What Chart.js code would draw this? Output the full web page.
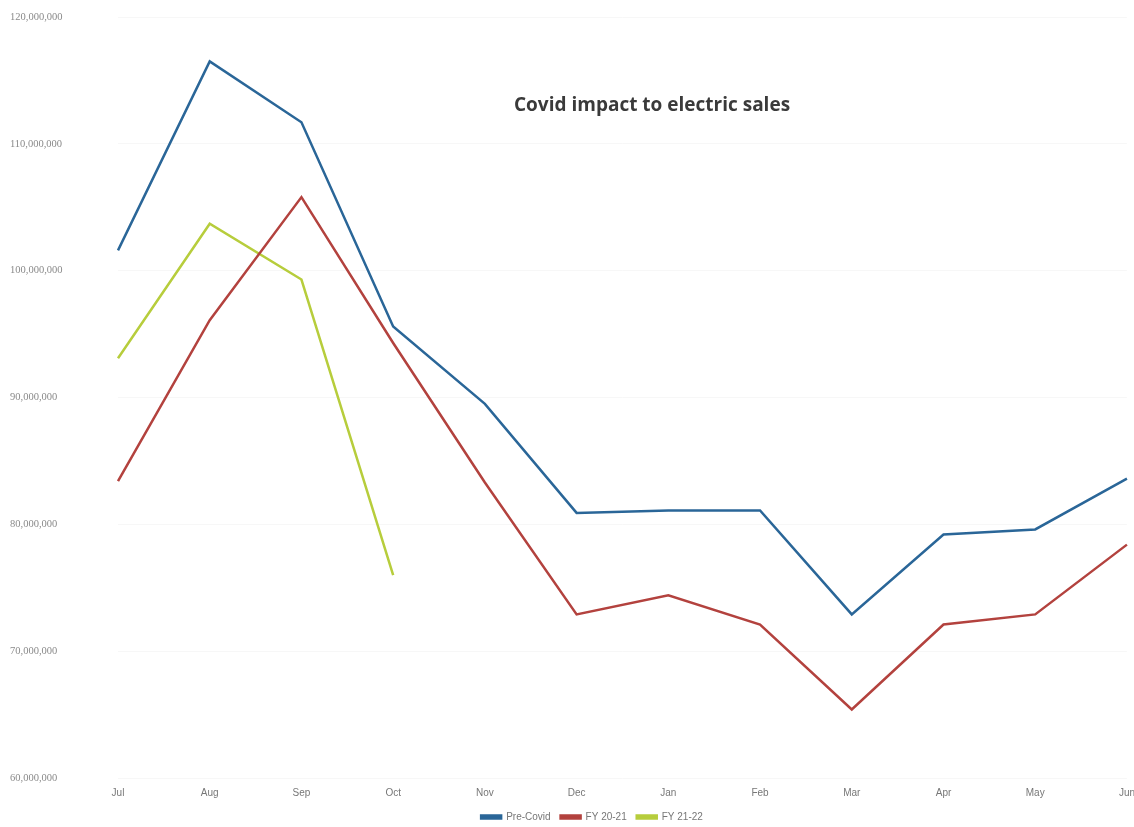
<!DOCTYPE html>
<html>
<head>
<meta charset="utf-8">
<script src="https://cdn.jsdelivr.net/npm/chart.js@4/dist/chart.umd.min.js"></script>
<style>
  html, body { margin: 0; padding: 0; background: #fff; overflow: hidden; }
  #wrap { position: relative; width: 1134px; height: 827px; overflow: hidden; }
  #title {
    position: absolute; left: 514px; top: 91px;
    font: bold 19px "Open Sans", "Liberation Sans", sans-serif; color: #3a3a3a;
    white-space: nowrap;
  }
</style>
</head>
<body>
<div id="wrap">
  <canvas id="chart" width="1136" height="832"></canvas>
  <div id="title">Covid impact to electric sales</div>
</div>
<script>
// Months of the fiscal year
const months = ['Jul', 'Aug', 'Sep', 'Oct', 'Nov', 'Dec', 'Jan', 'Feb', 'Mar', 'Apr', 'May', 'Jun'];

// Sales values
const preCovid = [101600000, 116500000, 111700000, 95600000, 89500000, 80900000, 81100000, 81100000, 72900000, 79200000, 79600000, 83600000];
const fy2021 = [83400000, 96100000, 105800000, 94300000, 83300000, 72900000, 74400000, 72100000, 65400000, 72100000, 72900000, 78400000];
const fy2122 = [93100000, 103700000, 99300000, 76000000];

const seriesNames = ['Pre-Covid', 'FY 20-21', 'FY 21-22'];
const seriesColors = ['#2a6698', '#b3423e', '#b7cd3c'];

const yMin = 60000000;
const yMax = 120000000;
const yStep = 10000000;

let datasets = [preCovid, fy2021, fy2122].map((vals, i) => ({
    label: seriesNames[i],
    data: vals,
    borderColor: seriesColors[i],
    backgroundColor: seriesColors[i],
    borderWidth: 2.5,
    pointRadius: 0,
    tension: 0
}));

// Legend sits a little right of the canvas centre in the original
const legendShift = {
    id: 'legendShift',
    afterLayout(chart) {
        chart.legend.left += 19;
        chart.legend.right += 19;
    }
};

new Chart(document.getElementById('chart'), {
    type: 'line',
    data: { labels: months, datasets: datasets },
    plugins: [legendShift],
    options: {
        responsive: false,
        animation: false,
        layout: { padding: { top: 17, left: 10, right: 0, bottom: 0 } },
        scales: {
            x: {
                offset: false,
                afterFit: scale => { scale.height = 24; },
                grid: { display: false },
                border: { display: false },
                ticks: {
                    padding: 1,
                    color: '#777',
                    font: { family: 'Liberation Sans', size: 10 },
                    maxRotation: 0
                }
            },
            y: {
                min: yMin,
                max: yMax,
                afterFit: scale => { scale.width = 108; },
                grid: { color: 'rgba(0,0,0,0.03)', drawTicks: false },
                border: { display: false },
                ticks: {
                    stepSize: yStep,
                    padding: 4,
                    crossAlign: 'far',
                    color: '#8a8a8a',
                    font: { family: 'Liberation Serif', size: 10.5 },
                    callback: v => v.toLocaleString('en-US')
                }
            }
        },
        plugins: {
            title: { display: false },
            tooltip: { enabled: false },
            legend: {
                position: 'bottom',
                labels: {
                    boxWidth: 20,
                    boxHeight: 3,
                    padding: 10,
                    color: '#777',
                    font: { family: 'Liberation Sans', size: 10 }
                }
            }
        }
    }
});
</script>
</body>
</html>
